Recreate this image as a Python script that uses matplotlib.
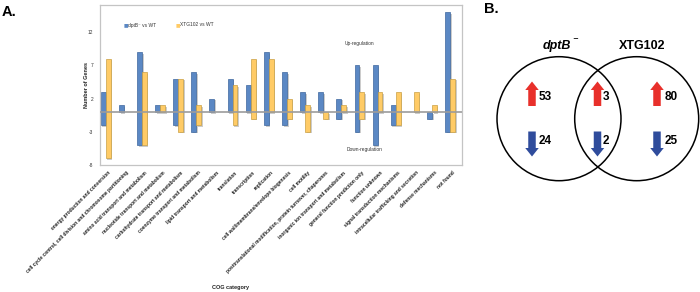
import matplotlib
matplotlib.use("Agg")
import matplotlib.pyplot as plt
import matplotlib.patheffects as pe
from matplotlib.patches import Circle, FancyArrow
import matplotlib.transforms as mtransforms
import numpy as np

plt.rcParams['font.family'] = ['Liberation Sans', 'DejaVu Sans']

categories = [
    "energy production and conversion",
    "cell cycle control, cell division and chromosome partitioning",
    "amino acid transport and metabolism",
    "nucleotide transport and metabolism",
    "carbohydrate transport and metabolism",
    "coenzyme transport and metabolism",
    "lipid transport and metabolism",
    "translation",
    "transcription",
    "replication",
    "cell wall/membrane/envelope biogenesis",
    "cell motility",
    "posttranslational modification, protein turnover, chaperones",
    "inorganic ion transport and metabolism",
    "general function prediction only",
    "function unknown",
    "signal transduction mechanisms",
    "intracellular trafficking and secretion",
    "defense mechanisms",
    "not found",
]
dptB_up = [3, 1, 9, 1, 5, 6, 2, 5, 4, 9, 6, 3, 3, 2, 7, 7, 1, 0, 0, 15]
dptB_down = [-2, 0, -5, 0, -2, -3, 0, 0, 0, -2, -2, 0, 0, -1, -3, -5, -2, 0, -1, -3]
xtg_up = [8, 0, 6, 1, 5, 1, 0, 4, 8, 8, 2, 1, 0, 1, 3, 3, 3, 3, 1, 5]
xtg_down = [-7, 0, -5, 0, -3, -2, 0, -2, -1, 0, -1, -3, -1, 0, -1, 0, -2, 0, 0, -3]
yticks = [-8, -3, 2, 7, 12]
series_names = ["dptB\u207b vs WT", "XTG102 vs WT"]

venn_titles = ["dptB", "XTG102"]
venn_up = [53, 3, 80]
venn_down = [24, 2, 25]

BLUE, BLUE_E = '#5B88C4', '#3E679E'
YEL, YEL_E = '#FFCB66', '#C9A044'
RED, NAVY = '#E8302B', '#2F4C9C'

W, H = 700, 292
fig = plt.figure(figsize=(7, 2.92), dpi=100)

# ---------- Panel A ----------
L, R, T, B = 100, 462, 5, 165
ax = fig.add_axes([L / W, 1 - B / H, (R - L) / W, (B - T) / H])
x = np.arange(len(categories))
w = 0.27
shadow = [pe.SimplePatchShadow(offset=(1.2, -1.2), shadow_rgbFace='#9a9a9a', alpha=0.5), pe.Normal()]
for xs, up, dn, fc, ec in [(x - w / 2, dptB_up, dptB_down, BLUE, BLUE_E),
                           (x + w / 2, xtg_up, xtg_down, YEL, YEL_E)]:
    up = np.array(up); dn = np.array(dn)
    m = (up - dn) > 0
    bars = ax.bar(xs[m], (up - dn)[m], w, bottom=dn[m], color=fc, edgecolor=ec, linewidth=0.5, zorder=2)
    for b in bars:
        b.set_path_effects(shadow)
ax.axhline(0, color='#9c9c9c', lw=1.2, zorder=3)
ax.set_xlim(-0.31, 19.66)
ax.set_ylim(-8, 16.1)
ax.set_yticks(yticks)
ax.set_yticklabels([str(t) for t in yticks], fontsize=3.5, color='#333333')
ax.tick_params(axis='y', length=0, pad=5)
ax.set_xticks([])
for s in ax.spines.values():
    s.set_color('#c4c4c4')
    s.set_linewidth(0.9)

# x labels
off = mtransforms.ScaledTranslation(4 / 100, -7 / 100, fig.dpi_scale_trans)
trans = mtransforms.blended_transform_factory(ax.transData, ax.transAxes) + off
for i, lab in enumerate(categories):
    ax.text(i, 0, lab, transform=trans, rotation=45, ha='right', va='center',
            rotation_mode='anchor', fontsize=3.5, color='#222222', fontweight='bold')

# legend
ly = (B - 25) / (B - T)
for xf, txt, c in [((124 - L) / (R - L), series_names[0], BLUE), ((176 - L) / (R - L), series_names[1], YEL)]:
    ax.text(xf, ly, '\u25a0', transform=ax.transAxes, fontsize=3.5, color=c, ha='left', va='center',
            family=['DejaVu Sans'])
    ax.text(xf + 0.011, ly, txt, transform=ax.transAxes, fontsize=3.5, color='#333333', ha='left', va='center')
ax.text((359 - L) / (R - L), (B - 44) / (B - T), 'Up-regulation', transform=ax.transAxes,
        fontsize=3.5, color='#333333', ha='center', va='center')
ax.text((365 - L) / (R - L), (B - 150) / (B - T), 'Down-regulation', transform=ax.transAxes,
        fontsize=3.5, color='#333333', ha='center', va='center')

# ---------- overlay in pixel coordinates ----------
ov = fig.add_axes([0, 0, 1, 1])
ov.set_xlim(0, W)
ov.set_ylim(H, 0)
ov.axis('off')
ov.text(2, 12, 'A.', fontsize=10.5, fontweight='bold', ha='left', va='center')
ov.text(484, 9, 'B.', fontsize=10.5, fontweight='bold', ha='left', va='center')
ov.text(87, 85, 'Number of Genes', rotation=90, fontsize=4, fontweight='bold', color='#222222',
        ha='center', va='center')
ov.text(231, 288, 'COG category', fontsize=4, fontweight='bold', color='#222222', ha='center', va='center')

# Venn
cy, r = 118.7, 62
for cx in [559, 636.7]:
    ov.add_patch(Circle((cx, cy), r, fill=False, ec='black', lw=1.1))
ov.text(557, 46, venn_titles[0], fontsize=9, fontweight='bold', style='italic', ha='center', va='center')
ov.text(575, 39, '\u2212', fontsize=5, fontweight='bold', ha='center', va='center', family=['DejaVu Sans'])
ov.text(642, 46, venn_titles[1], fontsize=9, fontweight='bold', ha='center', va='center')

arrow_x = [532, 597.5, 657]
num_x = [545, 606, 671]
for ax_, nx, u, d in zip(arrow_x, num_x, venn_up, venn_down):
    ov.add_patch(FancyArrow(ax_, 106, 0, -24.5, width=7.5, head_width=13.5, head_length=8.5,
                            length_includes_head=True, color=RED, lw=0))
    ov.add_patch(FancyArrow(ax_, 131.5, 0, 25, width=7.5, head_width=13.5, head_length=8.5,
                            length_includes_head=True, color=NAVY, lw=0))
    ov.text(nx, 97, str(u), fontsize=8.5, fontweight='bold', ha='center', va='center')
    ov.text(nx, 140.5, str(d), fontsize=8.5, fontweight='bold', ha='center', va='center')

fig.savefig('out.png', dpi=100)
